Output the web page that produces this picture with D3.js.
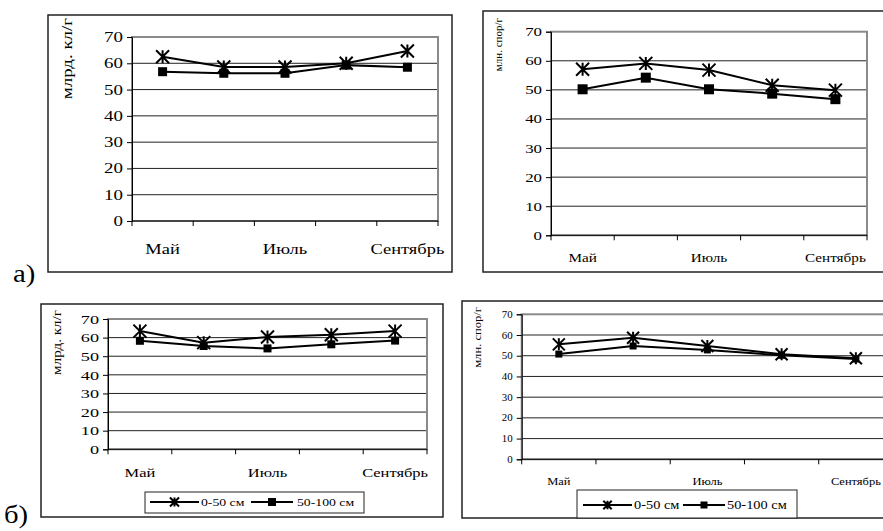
<!DOCTYPE html>
<meta charset="utf-8">
<script src="https://d3js.org/d3.v7.min.js"></script>
<style>
  body { margin: 0; background: #fff; }
  svg { display: block; }
</style>
<svg id="chart" width="883" height="531"></svg>
<script>
  // months (5 points, only 1st, 3rd, 5th are labelled)
  const months = ["Май", "Июнь", "Июль", "Август", "Сентябрь"];
  const monthLabels = ["Май", "", "Июль", "", "Сентябрь"];
  const yTicks = [0, 10, 20, 30, 40, 50, 60, 70];
  const seriesNames = ["0-50 см", "50-100 см"];

  // а) left: млрд. кл/г
  const aBact0 = [62.5, 58.6, 58.6, 60, 64.7];
  const aBact1 = [56.8, 56.2, 56.2, 59.3, 58.5];
  // а) right: млн. спор/г
  const aSpor0 = [57.1, 59.1, 56.8, 51.6, 49.9];
  const aSpor1 = [50.2, 54.2, 50.2, 48.7, 46.8];
  // б) left
  const bBact0 = [63.5, 57.3, 60.3, 61.5, 63.5];
  const bBact1 = [58.3, 55.5, 54.2, 56.4, 58.4];
  // б) right
  const bSpor0 = [55.5, 58.7, 54.7, 50.7, 48.8];
  const bSpor1 = [50.8, 54.7, 52.8, 50.2, 48.4];

  const FONT = "Liberation Serif";
  const svg = d3.select("#chart").style("font-family", FONT);

  // the scanned figure uses wide Times glyphs, so text gets a horizontal stretch (sx)
  const panels = [
    { frame: [48, 15, 452, 272], plot: [132, 37, 438, 221], s0: aBact0, s1: aBact1,
      ylab: "млрд. кл/г", ylx: 67, yly: 18, yl: [14, 1.35], tick: [14, 1.35], mon: [14, 1.32], my: 254,
      star: 13, sq: 9 },
    { frame: [483, 11, 895, 272], plot: [551, 31.7, 867, 235.3], s0: aSpor0, s1: aSpor1,
      ylab: "млн. спор/г", ylx: 498, yly: 18, yl: [11, 1.0], tick: [12.5, 1.35], mon: [13, 1.17], my: 262,
      star: 13, sq: 10 },
    { frame: [41, 304, 443, 517], plot: [108, 319, 427, 449.3], s0: bBact0, s1: bBact1,
      ylab: "млрд. кл/г", ylx: 57, yly: 310, yl: [12, 1.26], tick: [13, 1.4], mon: [13.5, 1.22], my: 477,
      star: 13, sq: 8,
      legend: { box: [145, 492, 364, 513], y: 502, l1: [150, 199], t1: 201, l2: [251, 293], t2: 297, f: [11, 1.25] } },
    { frame: [462, 301, 895, 518], plot: [521.7, 314.3, 893, 459.3], s0: bSpor0, s1: bSpor1,
      ylab: "млн. спор/г", ylx: 477, yly: 307, yl: [10, 1.26], tick: [9.5, 1.15], mon: [10, 1.25], my: 486,
      star: 12, sq: 7,
      legend: { box: [577, 490, 797, 518], y: 505, l1: [583, 632], t1: 634, l2: [683, 725], t2: 727, f: [12.5, 1.15] } }
  ];

  function star(g, x, y, size) {
    const r = size / 2;
    g.append("path")
      .attr("d", `M${x - r},${y - r}L${x + r},${y + r}M${x - r},${y + r}L${x + r},${y - r}M${x},${y - r}L${x},${y + r}`)
      .attr("stroke", "#000").attr("stroke-width", 2).attr("fill", "none");
  }
  function square(g, x, y, size) {
    g.append("rect").attr("x", x - size / 2).attr("y", y - size / 2)
      .attr("width", size).attr("height", size).attr("fill", "#000");
  }
  // text placed at (x,y) with horizontal stretch
  function label(g, x, y, str, f, anchor) {
    return g.append("text").attr("transform", `translate(${x},${y}) scale(${f[1]},1)`)
      .attr("text-anchor", anchor || "start").attr("dy", "0.35em")
      .style("font-size", f[0] + "px").style("font-family", FONT).text(str);
  }

  panels.forEach(p => {
    const g = svg.append("g");
    const [fx0, fy0, fx1, fy1] = p.frame;
    g.append("rect").attr("x", fx0).attr("y", fy0).attr("width", fx1 - fx0).attr("height", fy1 - fy0)
      .attr("fill", "none").attr("stroke", "#222").attr("stroke-width", 1.5);

    const [l, t, r, b] = p.plot;
    const x = d3.scaleBand().domain(months).range([l, r]);
    const y = d3.scaleLinear().domain([0, 70]).range([b, t]);

    // gridlines
    g.selectAll(".grid").data(yTicks.slice(1, -1)).join("line")
      .attr("x1", l).attr("x2", r).attr("y1", d => y(d)).attr("y2", d => y(d))
      .attr("stroke", "#222").attr("stroke-width", 1);

    // plot area border (grey)
    g.append("rect").attr("x", l).attr("y", t).attr("width", r - l).attr("height", b - t)
      .attr("fill", "none").attr("stroke", "#8a8a8a").attr("stroke-width", 2);

    // y axis
    const yAxis = g.append("g").attr("transform", `translate(${l},0)`)
      .call(d3.axisLeft(y).tickValues(yTicks).tickSize(5).tickPadding(4));
    yAxis.attr("font-family", FONT);
    yAxis.selectAll("line,path").attr("stroke", "#000");
    yAxis.selectAll("text").each(function () {
      const tx = d3.select(this), xx = +tx.attr("x");
      tx.attr("x", 0).attr("transform", `translate(${xx},0) scale(${p.tick[1]},1)`)
        .style("font-size", p.tick[0] + "px").style("font-family", FONT);
    });

    // x axis: ticks at category boundaries
    const bounds = months.map(m => x(m)).concat([r]);
    g.append("line").attr("x1", l).attr("x2", r).attr("y1", b).attr("y2", b).attr("stroke", "#000");
    g.selectAll(".xt").data(bounds).join("line")
      .attr("x1", d => d).attr("x2", d => d).attr("y1", b).attr("y2", b + 5).attr("stroke", "#000");
    months.forEach((m, i) => {
      if (monthLabels[i]) label(g, x(m) + x.bandwidth() / 2, p.my - 5, monthLabels[i], p.mon, "middle");
    });

    // y label (stretched along its length)
    g.append("text").attr("transform", `translate(${p.ylx},${p.yly}) rotate(-90) scale(${p.yl[1]},1)`)
      .attr("text-anchor", "end").attr("dy", "0.35em")
      .style("font-size", p.yl[0] + "px").style("font-family", FONT).text(p.ylab);

    // series
    const cx = (d, i) => x(months[i]) + x.bandwidth() / 2;
    const line = d3.line().x(cx).y(d => y(d));
    [p.s1, p.s0].forEach(s => {
      g.append("path").attr("d", line(s)).attr("fill", "none").attr("stroke", "#000").attr("stroke-width", 2);
    });
    p.s1.forEach((d, i) => square(g, cx(d, i), y(d), p.sq));
    p.s0.forEach((d, i) => star(g, cx(d, i), y(d), p.star));

    // legend
    if (p.legend) {
      const L = p.legend;
      const [bx0, by0, bx1, by1] = L.box;
      g.append("rect").attr("x", bx0).attr("y", by0).attr("width", bx1 - bx0).attr("height", by1 - by0)
        .attr("fill", "#fff").attr("stroke", "#222").attr("stroke-width", 1);
      g.append("line").attr("x1", L.l1[0]).attr("x2", L.l1[1]).attr("y1", L.y).attr("y2", L.y)
        .attr("stroke", "#000").attr("stroke-width", 2);
      star(g, (L.l1[0] + L.l1[1]) / 2, L.y, p.star * 0.7);
      label(g, L.t1, L.y, seriesNames[0], L.f);
      g.append("line").attr("x1", L.l2[0]).attr("x2", L.l2[1]).attr("y1", L.y).attr("y2", L.y)
        .attr("stroke", "#000").attr("stroke-width", 2);
      square(g, (L.l2[0] + L.l2[1]) / 2, L.y, p.sq);
      label(g, L.t2, L.y, seriesNames[1], L.f);
    }
  });

  svg.append("text").attr("transform", "translate(13,282) scale(1.15,1)").style("font-size", "25px").style("font-family", FONT).text("а)");
  svg.append("text").attr("transform", "translate(4,523) scale(1.1,1)").style("font-size", "26px").style("font-family", FONT).text("б)");
</script>
